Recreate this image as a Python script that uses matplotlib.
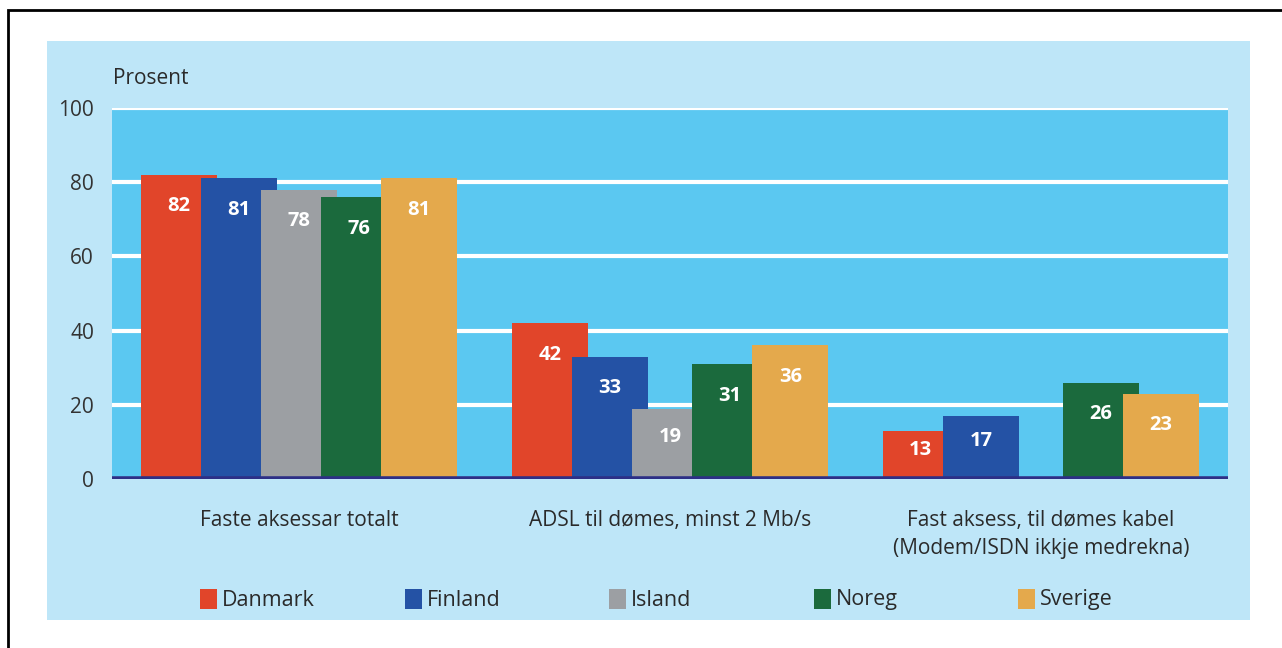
import numpy as np
import matplotlib.pyplot as plt
from matplotlib.patches import Rectangle

plt.rcParams['font.family'] = ['Open Sans', 'DejaVu Sans']

# data
groups = ['Faste aksessar totalt', 'ADSL til dømes, minst 2 Mb/s',
          'Fast aksess, til dømes kabel\n(Modem/ISDN ikkje medrekna)']
countries = ['Danmark', 'Finland', 'Island', 'Noreg', 'Sverige']
danmark = [82, 42, 13]
finland = [81, 33, 17]
island = [78, 19, np.nan]
noreg = [76, 31, 26]
sverige = [81, 36, 23]
yticks = [0, 20, 40, 60, 80, 100]

series = [danmark, finland, island, noreg, sverige]
colors = ['#e1452a', '#2452a5', '#9c9fa3', '#1b6a3d', '#e4a94c']

W, H = 1282, 648
fig = plt.figure(figsize=(W / 100, H / 100), dpi=100)
fig.patch.set_facecolor('white')

# outer frame and light panel (behind the axes)
fig.patches.append(Rectangle((8 / W, -0.1), 1.2, 1 - 10 / H + 0.1, transform=fig.transFigure,
                             fill=False, edgecolor='black', linewidth=2, zorder=-2))
fig.patches.append(Rectangle((47 / W, 1 - 620 / H), (1250 - 47) / W, (620 - 41) / H,
                             transform=fig.transFigure, facecolor='#bee6f8', edgecolor='none',
                             zorder=-1))

ax = fig.add_axes([112 / W, 1 - 479 / H, (1228 - 112) / W, (479 - 108) / H])
ax.set_facecolor('#5bc8f1')
for s in ax.spines.values():
    s.set_visible(False)

x = np.arange(len(groups))
step, bw = 0.162, 0.205
for i, (vals, c) in enumerate(zip(series, colors)):
    pos = x + (i - 2) * step
    ax.bar(pos, vals, width=bw, color=c, zorder=3 + i)
    for p, v in zip(pos, vals):
        if np.isnan(v):
            continue
        # label sits a little below the bar top (or mid-bar for short bars)
        ax.text(p, max(v - 8.5, v * 0.6), str(v), ha='center', va='center',
                color='white', fontsize=14.5, fontweight='bold', zorder=10)

ax.set_ylim(0, 100)
ax.set_xlim(-0.504, 2.504)
ax.set_yticks(yticks)
ax.tick_params(axis='y', length=0, pad=13, labelsize=15, labelcolor='#333333')
ax.yaxis.grid(True, color='white', linewidth=3, zorder=1)
ax.set_axisbelow(True)
ax.axhline(0, color='#2d2f86', linewidth=4, zorder=12)

ax.set_xticks(x)
ax.set_xticklabels(groups, fontsize=15, color='#2a2a2a', va='top', linespacing=1.45)
ax.tick_params(axis='x', length=0, pad=22)

fig.text(113 / W, 1 - 78 / H, 'Prosent', fontsize=15, color='#2a2a2a', va='center')

# legend
for i, (name, c) in enumerate(zip(countries, colors)):
    x0 = 200 + i * 204.5
    fig.patches.append(Rectangle((x0 / W, 1 - 609 / H), 17 / W, 20 / H,
                                 transform=fig.transFigure, facecolor=c, edgecolor='none'))
    fig.text((x0 + 22) / W, 1 - 600 / H, name, fontsize=15.5, color='#2a2a2a', va='center')

fig.savefig('out.png', dpi=100)
